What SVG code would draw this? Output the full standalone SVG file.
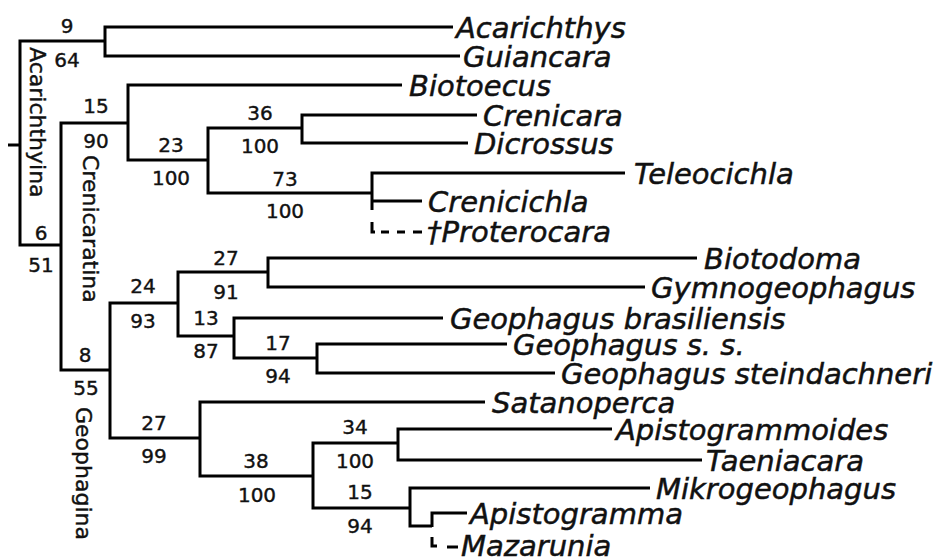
<svg xmlns="http://www.w3.org/2000/svg" width="941" height="558" viewBox="0 0 941 558">
<style>
.br{fill:none;stroke:#000;stroke-width:3;stroke-linejoin:miter;stroke-linecap:butt}
.dash{fill:none;stroke:#000;stroke-width:3}
.tx{font-family:"DejaVu Sans","Verdana",sans-serif;font-style:italic;font-size:29px;fill:#111;stroke:#111;stroke-width:0.5}
.num{font-family:"DejaVu Sans",sans-serif;font-size:20px;text-anchor:middle;fill:#111;stroke:#111;stroke-width:0.4}
.cl{font-family:"DejaVu Sans",sans-serif;font-size:22px;fill:#111;stroke:#111;stroke-width:0.4}
</style>
<rect width="941" height="558" fill="#fff"/>
<g id="connectors">
<path class="br" d="M8,145 H20"/>
<path class="br" d="M105,41 H20 V245 H61"/>
<path class="br" d="M453,27 H105 V56 H460"/>
<path class="br" d="M128,123 H61 V370 H110"/>
<path class="br" d="M402,85 H128 V160 H208"/>
<path class="br" d="M302,128 H208 V193 H372"/>
<path class="br" d="M477,115 H302 V143 H468"/>
<path class="br" d="M625,173 H372 V210"/>
<path class="br" d="M372,201 H422"/>
<path class="dash" d="M372,222 V232 H424" stroke-dasharray="13 6 8 8 8 8 9"/>
<path class="br" d="M178,303 H110 V438 H200"/>
<path class="br" d="M268,272 H178 V336 H234"/>
<path class="br" d="M697,258 H268 V287 H645"/>
<path class="br" d="M443,318 H234 V358 H317"/>
<path class="br" d="M507,344 H317 V373 H555"/>
<path class="br" d="M485,402 H200 V476 H313"/>
<path class="br" d="M398,443 H313 V508 H410"/>
<path class="br" d="M612,429 H398 V460 H702"/>
<path class="br" d="M650,488 H410 V526 H432"/>
<path class="br" d="M467,513 H432 V527"/>
<path class="dash" d="M432,537 V546 H437"/>
<path class="dash" d="M447,547 H458"/>
</g>
<g id="clade-labels">
<g id="lab-acarichthyina"><text class="cl" transform="translate(30,47) rotate(90)">Acarichthyina</text></g>
<g id="lab-crenicaratina"><text class="cl" transform="translate(83,155) rotate(90)">Crenicaratina</text></g>
<g id="lab-geophagina"><text class="cl" transform="translate(76,407) rotate(90)">Geophagina</text></g>
</g>
<g id="support">
<g id="s-root-a"><text class="num" x="67" y="33">9</text><text class="num" x="67" y="67">64</text></g>
<g id="s-cren"><text class="num" x="96" y="113">15</text><text class="num" x="96" y="148">90</text></g>
<g id="s-23"><text class="num" x="171" y="152">23</text><text class="num" x="171" y="185">100</text></g>
<g id="s-36"><text class="num" x="260" y="120">36</text><text class="num" x="260" y="153">100</text></g>
<g id="s-73"><text class="num" x="285" y="186">73</text><text class="num" x="285" y="218">100</text></g>
<g id="s-6"><text class="num" x="41" y="240">6</text><text class="num" x="41" y="272">51</text></g>
<g id="s-27a"><text class="num" x="226" y="265">27</text><text class="num" x="226" y="299">91</text></g>
<g id="s-24"><text class="num" x="143" y="293">24</text><text class="num" x="143" y="328">93</text></g>
<g id="s-13"><text class="num" x="206" y="325">13</text><text class="num" x="206" y="358">87</text></g>
<g id="s-17"><text class="num" x="278" y="350">17</text><text class="num" x="278" y="383">94</text></g>
<g id="s-8"><text class="num" x="85" y="362">8</text><text class="num" x="86" y="395">55</text></g>
<g id="s-27b"><text class="num" x="154" y="430">27</text><text class="num" x="154" y="463">99</text></g>
<g id="s-38"><text class="num" x="256" y="468">38</text><text class="num" x="257" y="502">100</text></g>
<g id="s-34"><text class="num" x="355" y="434">34</text><text class="num" x="355" y="468">100</text></g>
<g id="s-15b"><text class="num" x="360" y="499">15</text><text class="num" x="360" y="533">94</text></g>
</g>
<g id="taxa">
<g id="t-acarichthys"><text class="tx" x="456" y="38">Acarichthys</text></g>
<g id="t-guiancara"><text class="tx" x="463" y="67">Guiancara</text></g>
<g id="t-biotoecus"><text class="tx" x="409" y="96">Biotoecus</text></g>
<g id="t-crenicara"><text class="tx" x="483" y="126">Crenicara</text></g>
<g id="t-dicrossus"><text class="tx" x="474" y="154">Dicrossus</text></g>
<g id="t-teleocichla"><text class="tx" x="634" y="184">Teleocichla</text></g>
<g id="t-crenicichla"><text class="tx" x="428" y="212">Crenicichla</text></g>
<g id="t-proterocara"><text class="tx" x="427" y="242">†Proterocara</text></g>
<g id="t-biotodoma"><text class="tx" x="704" y="269">Biotodoma</text></g>
<g id="t-gymnogeophagus"><text class="tx" x="651" y="298">Gymnogeophagus</text></g>
<g id="t-gbrasiliensis"><text class="tx" x="450" y="329">Geophagus brasiliensis</text></g>
<g id="t-gss"><text class="tx" x="513" y="355">Geophagus s. s.</text></g>
<g id="t-gsteindachneri"><text class="tx" x="561" y="384">Geophagus steindachneri</text></g>
<g id="t-satanoperca"><text class="tx" x="492" y="413">Satanoperca</text></g>
<g id="t-apistogrammoides"><text class="tx" x="616" y="440">Apistogrammoides</text></g>
<g id="t-taeniacara"><text class="tx" x="706" y="471">Taeniacara</text></g>
<g id="t-mikrogeophagus"><text class="tx" x="656" y="499">Mikrogeophagus</text></g>
<g id="t-apistogramma"><text class="tx" x="470" y="524">Apistogramma</text></g>
<g id="t-mazarunia"><text class="tx" x="461" y="556">Mazarunia</text></g>
</g>
</svg>
